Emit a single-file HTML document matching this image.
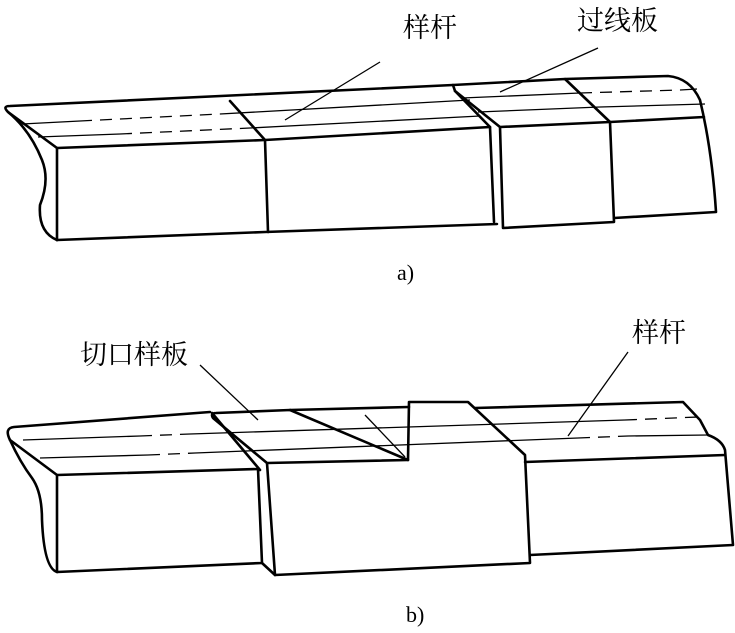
<!DOCTYPE html>
<html><head><meta charset="utf-8"><style>
html,body{margin:0;padding:0;background:#fff;}
svg{display:block}
text{font-family:"Liberation Serif","Noto Serif CJK SC",serif;fill:#000}
</style></head><body>
<svg width="735" height="633" viewBox="0 0 735 633" xmlns="http://www.w3.org/2000/svg">
<g fill="none" stroke="#000" stroke-width="2.6" stroke-linejoin="round" stroke-linecap="round">
<path d="M57,148 L8,112 Q2,106 10,106 L453,85"/>
<path d="M8,112 Q30,130 42,160 Q50,180 40,205 Q38,232 57,240"/>
<path d="M57,148 L265,140 L490,127"/>
<path d="M57,240 L265,232 L497,224"/>
<line x1="57" y1="148" x2="57" y2="240"/>
<line x1="230" y1="101" x2="265" y2="140"/>
<line x1="265" y1="140" x2="268" y2="232"/>
<path d="M453,85 L565,79 L610,122 L500,127 L455,91 Z"/>
<path d="M455,91 L490,127 L494,222"/>
<path d="M500,127 L503,228 L614,222 L610,122"/>
<path d="M565,79 L668,76 Q690,78 700,100 Q712,150 716,212 L614,218"/>
<line x1="610" y1="122" x2="704" y2="117"/>
<path d="M57,475 L10,440 Q4,428 14,427 L210,412"/>
<path d="M10,440 Q20,462 32,478 Q42,492 42,520 Q44,568 57,572"/>
<path d="M57,475 L258,469 L262,563 L57,572 Z"/>
<path d="M212,413 L260,470"/>
<path d="M213,418 Q210,413 216,413 L290,410 L408,460 L267,463 Z"/>
<path d="M267,463 L275,575 L530,563 L525,455 L468,402 L409,402 L408,460"/>
<path d="M262,563 L275,575"/>
<path d="M290,410 L409,407"/>
<path d="M475,408 L683,402 L700,420 L708,435 Q722,440 725,450 L733,545 L530,555"/>
<line x1="525" y1="462" x2="725" y2="455"/>
</g>
<g fill="none" stroke="#000" stroke-width="1.3">
<path d="M22,124 L80,121"/><path d="M80,121 L220,114" stroke-dasharray="12,8"/><path d="M220,114 L470,100"/>
<path d="M38,137 L120,134"/><path d="M120,134 L250,128" stroke-dasharray="12,8"/><path d="M250,128 L480,116"/>
<path d="M462,98 L580,93"/><path d="M580,93 L680,90" stroke-dasharray="12,8"/><path d="M680,90 L697,89"/>
<path d="M478,112 L600,107"/><path d="M600,107 L705,104"/>
<line x1="380" y1="62" x2="285" y2="120"/>
<line x1="598" y1="48" x2="500" y2="92"/>
<path d="M23,440 L140,436"/><path d="M140,436 L190,434" stroke-dasharray="12,8"/><path d="M190,434 L625,420"/><path d="M625,420 L698,417" stroke-dasharray="12,8"/>
<path d="M40,458 L148,455"/><path d="M148,455 L195,453" stroke-dasharray="12,8"/><path d="M195,453 L578,438"/><path d="M578,438 L628,436" stroke-dasharray="12,8"/><path d="M628,436 L708,435"/>
<line x1="365" y1="415" x2="405" y2="457"/>
<line x1="200" y1="365" x2="258" y2="420"/>
<line x1="628" y1="352" x2="568" y2="436"/>
</g>
<text x="403" y="37" font-size="27">样杆</text>
<text x="577" y="30" font-size="27">过线板</text>
<text x="397" y="280" font-size="22">a)</text>
<text x="80" y="364" font-size="27">切口样板</text>
<text x="632" y="342" font-size="27">样杆</text>
<text x="406" y="622" font-size="22">b)</text>
</svg>
</body></html>
